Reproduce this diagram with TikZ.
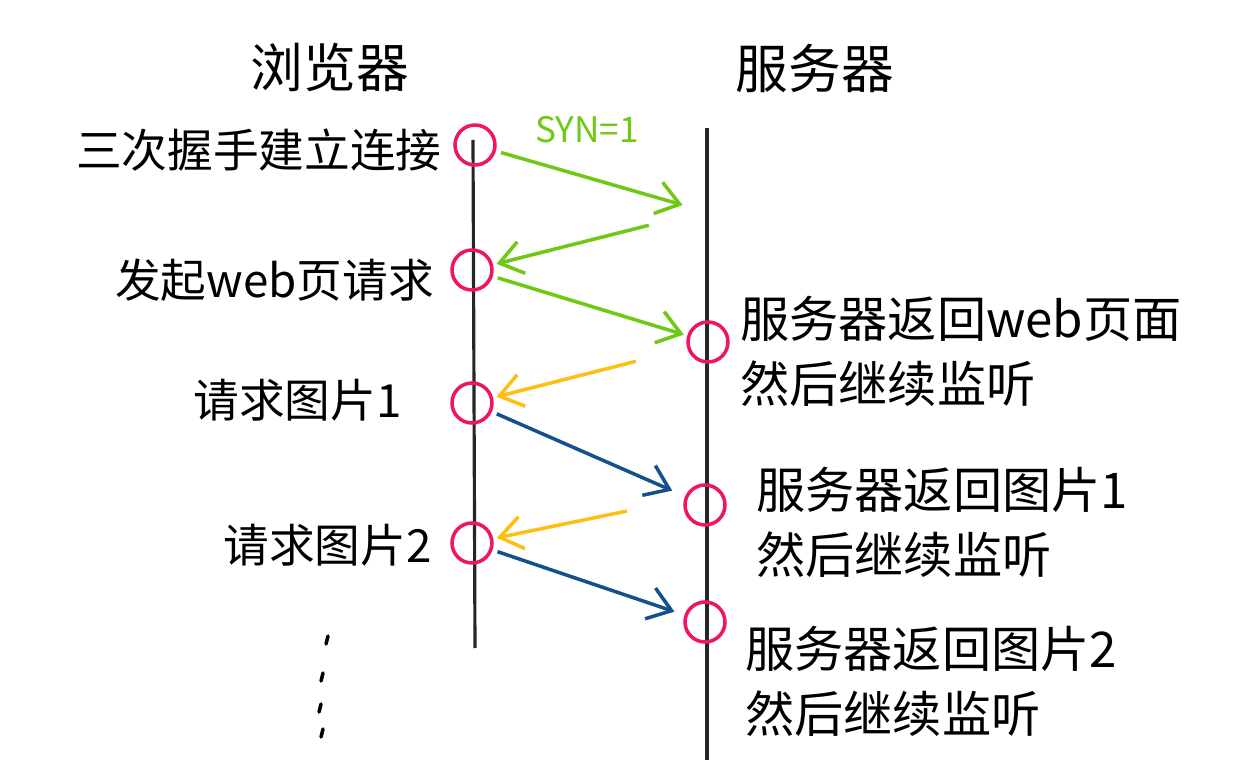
\documentclass[tikz,border=0pt]{standalone}
\usepackage{fontspec}
\setmainfont{Noto Sans CJK SC}
\usetikzlibrary{arrows.meta}
\definecolor{synGreen}{RGB}{110,200,20}
\definecolor{retOrange}{RGB}{255,190,20}
\definecolor{reqBlue}{RGB}{20,80,140}
\definecolor{ringRed}{RGB}{240,20,100}
\tikzset{
  ring/.style={circle, draw=ringRed, line width=2pt, minimum size=0.8cm, inner sep=0pt},
  msg/.style={line width=2pt, -{Straight Barb[length=4.5mm,width=6.5mm]}, shorten <=3pt, shorten >=2pt},
  lifeline/.style={line width=1.8pt, black!85},
  lbl/.style={font=\fontsize{26}{36}\selectfont, inner sep=0pt, anchor=east},
  ans/.style={font=\fontsize{28}{37}\selectfont, inner sep=0pt, align=left, anchor=west},
  head/.style={font=\fontsize{30}{36}\selectfont, inner sep=0pt}
}
\begin{document}
\begin{tikzpicture}[x=0.02cm,y=-0.02cm]
    \useasboundingbox (0,0) rectangle (1254,780);
    % titles
    \node [head] (browser) at (330,68) {浏览器};
    \node [head] (server) at (815,68) {服务器};
    % lifelines
    \coordinate (btop) at (473,140);
    \coordinate (bbot) at (475,648);
    \coordinate (stop) at (707,128);
    \coordinate (sbot) at (707,760);
    \draw[lifeline] (btop) -- (bbot);
    \draw[lifeline] (stop) -- (sbot);
    % circles on the browser side
    \node [ring] (b1) at (475,145) {};
    \node [ring] (b2) at (472,270) {};
    \node [ring] (b3) at (472,403) {};
    \node [ring] (b4) at (472,543) {};
    % circles on the server side
    \node [ring] (s1) at (708,342) {};
    \node [ring] (s2) at (705,505) {};
    \node [ring] (s3) at (705,622) {};
    % browser labels
    \node [lbl] (hand) at (442,150) {三次握手建立连接};
    \node [lbl] (page) at (434,280) {发起web页请求};
    \node [lbl] (img1) at (402,400) {请求图片1};
    \node [lbl] (img2) at (432,545) {请求图片2};
    % server labels
    \node [ans] (pageRet) at (740,351) {服务器返回web页面\\然后继续监听};
    \node [ans] (img1Ret) at (756,522) {服务器返回图片1\\然后继续监听};
    \node [ans] (img2Ret) at (745,681) {服务器返回图片2\\然后继续监听};
    % handshake
    \node [synGreen, font=\fontsize{20}{24}\selectfont, inner sep=0pt] (syn) at (587,130) {SYN=1};
    \coordinate (synEnd) at (686,206);
    \coordinate (ackStart) at (654,224);
    \draw[msg, synGreen] (b1) -- (synEnd);
    \draw[msg, synGreen] (ackStart) -- (b2);
    \draw[msg, synGreen] (b2) -- (s1);
    % replies and requests
    \coordinate (pageBack) at (641,360);
    \coordinate (img1Back) at (632,510);
    \draw[msg, retOrange] (pageBack) -- (b3);
    \draw[msg, reqBlue, shorten >=8pt] (b3) -- (s2);
    \draw[msg, retOrange] (img1Back) -- (b4);
    \draw[msg, reqBlue, shorten >=6pt] (b4) -- (s3);
    % more to come
    \foreach \x/\y in {327/640, 322/677, 320/708, 322/733}
      \draw[line width=2pt, line cap=round] ({\x+1},{\y-4}) -- ({\x-1},{\y+4});
\end{tikzpicture}
\end{document}
